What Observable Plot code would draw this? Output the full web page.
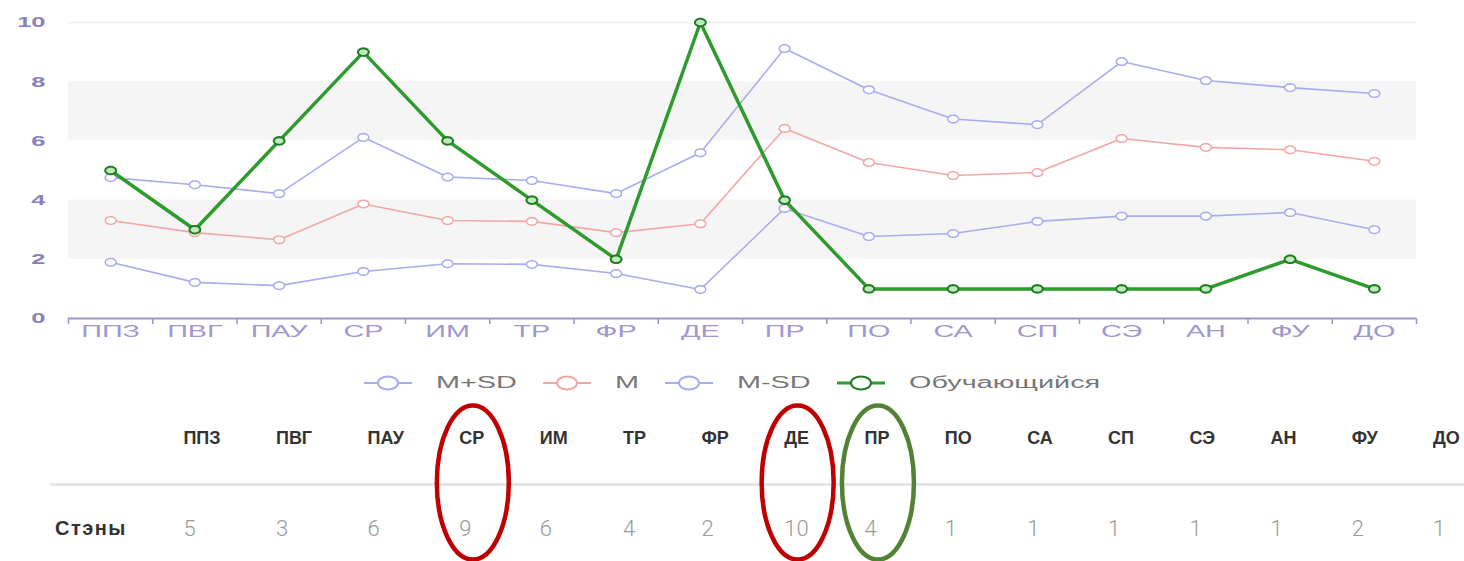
<!DOCTYPE html>
<html>
<head>
<meta charset="utf-8">
<script src="https://cdn.jsdelivr.net/npm/d3@7"></script>
<script src="https://cdn.jsdelivr.net/npm/@observablehq/plot@0.6"></script>
<style>
  html, body { margin: 0; padding: 0; background: #fff; }
  body { width: 1464px; height: 561px; overflow: hidden; position: relative; font-family: "Liberation Sans", Arial, sans-serif; }
  #chart { position: absolute; left: 0; top: 0; }
  #legend { position: absolute; left: 0; top: 370px; width: 1464px; height: 26px; display: flex; justify-content: center; align-items: center; }
  .lg-item { display: flex; align-items: center; margin: 0 13px; }
  .lg-item svg { margin-right: 24px; }
  .lg-text { display: inline-block; font: 400 16px "Liberation Sans", Arial, sans-serif; color: #777; transform-origin: left center; white-space: nowrap; }
  #table { position: absolute; left: 50px; top: 393px; width: 1700px; }
  table { border-collapse: collapse; }
  th { font: 700 18px "Liberation Sans", Arial, sans-serif; color: #333; text-align: left; vertical-align: middle; height: 90px; padding: 0 50.4px 0 5px; border-bottom: 3px solid #e6e6e6; white-space: nowrap; }
  td { font: 300 22px Roboto, "Liberation Sans", sans-serif; color: #9a9a9a; text-align: left; vertical-align: middle; height: 84px; padding: 0 50.4px 0 5px; white-space: nowrap; }
  td.row-label { font: 700 20px "Liberation Sans", Arial, sans-serif; letter-spacing: 1.5px; color: #333; width: 73px; }
  th.corner { width: 73px; }
  #overlay { position: absolute; left: 0; top: 0; pointer-events: none; }
</style>
</head>
<body>
<div id="chart"></div>
<div id="legend"></div>
<div id="table"></div>
<script>
// ---- data ----
const categories = ["ППЗ","ПВГ","ПАУ","СР","ИМ","ТР","ФР","ДЕ","ПР","ПО","СА","СП","СЭ","АН","ФУ","ДО"];
const mPlusSD  = [4.76,4.52,4.22,6.12,4.78,4.66,4.22,5.6,9.12,7.73,6.74,6.55,8.68,8.04,7.8,7.6];
const mean     = [3.31,2.9,2.66,3.87,3.31,3.28,2.9,3.2,6.42,5.27,4.83,4.93,6.08,5.78,5.7,5.31];
const mMinusSD = [1.9,1.22,1.11,1.59,1.85,1.83,1.52,0.98,3.72,2.77,2.87,3.28,3.46,3.46,3.58,3.0];
const student  = [5,3,6,9,6,4,2,10,4,1,1,1,1,1,2,1];
const yTicks = [0,2,4,6,8,10];
const shadedBands = [[2,4],[6,8]];
const seriesNames = ["M+SD","M","M-SD","Обучающийся"];
const rowLabel = "Стэны";
const highlightedRed = ["СР","ДЕ"];
const highlightedGreen = ["ПР"];

// ---- styles ----
const lavender = "#ababef";
const pink = "#f2a7a7";
const green = "#2e9b2e";
const axisPurple = "#9d93c9";
const seriesColors = [lavender, pink, lavender, green];

// wide elliptical marker (the reference picture is horizontally stretched)
const wideCircle = {
  draw(context, size) {
    const r = Math.sqrt(size / Math.PI);
    const rx = r * 1.35, ry = r * 0.95, n = 28;
    for (let k = 0; k <= n; ++k) {
      const a = (2 * Math.PI * k) / n;
      const px = rx * Math.cos(a), py = ry * Math.sin(a);
      if (k === 0) context.moveTo(px, py); else context.lineTo(px, py);
    }
    context.closePath();
  }
};

const idx = (d, i) => i + 0.5;

const marks = [
  Plot.rect(shadedBands, {x1: () => 0, x2: () => categories.length, y1: d => d[0], y2: d => d[1], fill: "#f5f5f5"}),
  Plot.ruleY([10], {stroke: "#f1f1f1", strokeWidth: 2}),
  Plot.ruleY([0], {stroke: axisPurple, strokeWidth: 2}),
  Plot.axisX(d3.range(categories.length + 1), {tickSize: 6, tickFormat: () => "", stroke: axisPurple, strokeWidth: 1.5}),
  Plot.text(categories, {x: idx, text: d => d, frameAnchor: "bottom", dy: 18, fill: "#9f97ce", fontSize: 16}),
  Plot.text(yTicks, {y: d => d, text: d => String(d), frameAnchor: "left", textAnchor: "end", dx: -23, fill: "#8a7fbd", fontSize: 15, fontWeight: "bold"})
];
[mMinusSD, mean, mPlusSD].forEach(arr => {
  const c = arr === mean ? pink : lavender;
  marks.push(Plot.line(categories, {x: idx, y: (d, i) => arr[i], stroke: c, strokeWidth: 1.6}));
  marks.push(Plot.dot(categories, {x: idx, y: (d, i) => arr[i], r: 4, symbol: wideCircle, fill: "white", stroke: c, strokeWidth: 1.5}));
});
marks.push(Plot.line(categories, {x: idx, y: (d, i) => student[i], stroke: green, strokeWidth: 3.5}));
marks.push(Plot.dot(categories, {x: idx, y: (d, i) => student[i], r: 4, symbol: wideCircle, fill: "#bfeabf", stroke: "#1f7d1f", strokeWidth: 2}));

const chart = Plot.plot({
  width: 1464,
  height: 350,
  marginTop: 22,
  marginBottom: 32,
  marginLeft: 68,
  marginRight: 48,
  x: {domain: [0, categories.length], axis: null},
  y: {domain: [0, 10], axis: null},
  style: {background: "transparent", fontFamily: "'Liberation Sans', Arial, sans-serif"},
  marks
});
document.getElementById("chart").appendChild(chart);

// horizontally widen the axis labels (the reference image is stretched)
const catSet = new Set(categories);
const tickSet = new Set(yTicks.map(String));
d3.select(chart).selectAll("text").each(function() {
  const s = this.textContent;
  let k = 0;
  if (catSet.has(s)) k = 1.8;
  else if (tickSet.has(s)) k = 1.7;
  if (!k) return;
  const t = d3.select(this);
  const tr = t.attr("transform");
  if (tr) t.attr("transform", `${tr} scale(${k},1)`);
  else {
    const x = +t.attr("x") || 0;
    t.attr("x", x / k).attr("transform", `scale(${k},1)`);
  }
});

// ---- legend ----
const legend = document.getElementById("legend");
seriesNames.forEach((name, i) => {
  const item = document.createElement("div");
  item.className = "lg-item";
  const isStudent = i === 3;
  const sw = d3.create("svg").attr("width", 48).attr("height", 20);
  sw.append("line").attr("x1", 0).attr("x2", 48).attr("y1", 10).attr("y2", 10)
    .attr("stroke", seriesColors[i]).attr("stroke-width", isStudent ? 3 : 2);
  sw.append("ellipse").attr("cx", 24).attr("cy", 10).attr("rx", 10).attr("ry", 6.5)
    .attr("fill", "white").attr("stroke", isStudent ? "#1f7d1f" : seriesColors[i]).attr("stroke-width", 2);
  item.appendChild(sw.node());
  const t = document.createElement("span");
  t.className = "lg-text";
  t.textContent = name;
  item.appendChild(t);
  legend.appendChild(item);
});
legend.querySelectorAll(".lg-text").forEach(t => {
  const w = t.offsetWidth;
  t.style.transform = "scaleX(1.8)";
  t.style.marginRight = (w * 0.8) + "px";
});

// ---- table ----
const tbl = d3.select("#table").append("table");
const hr = tbl.append("thead").append("tr");
hr.append("th").attr("class", "corner");
categories.forEach(c => hr.append("th").append("span").text(c));
const br = tbl.append("tbody").append("tr");
br.append("td").attr("class", "row-label").text(rowLabel);
student.forEach(v => br.append("td").text(v));

// ---- highlight ellipses ----
const overlay = d3.select("body").append("svg").attr("id", "overlay").attr("width", 1464).attr("height", 561);
const ths = document.querySelectorAll("#table th span");
function ring(cat, color) {
  const i = categories.indexOf(cat);
  const r = ths[i].getBoundingClientRect();
  const cellBottom = ths[i].parentNode.getBoundingClientRect().bottom;
  overlay.append("ellipse")
    .attr("cx", r.left + r.width / 2 + 1)
    .attr("cy", cellBottom - 2)
    .attr("rx", 36).attr("ry", 77)
    .attr("fill", "none").attr("stroke", color).attr("stroke-width", 4.5);
}
highlightedRed.forEach(c => ring(c, "#c00000"));
highlightedGreen.forEach(c => ring(c, "#548235"));
</script>
</body>
</html>
